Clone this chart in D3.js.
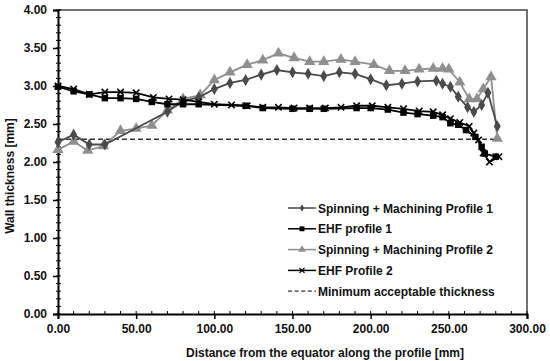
<!DOCTYPE html>
<html>
<head>
<meta charset="utf-8">
<script src="https://cdn.jsdelivr.net/npm/d3@7"></script>
<style>
  body { margin: 0; background: #fff; }
  text { font-family: Arial, "Liberation Sans", sans-serif; font-weight: bold; }
</style>
</head>
<body>
<svg id="chart" width="550" height="361"></svg>
<script>
// values
const sm1X = [0, 10, 20, 30, 70, 80, 90, 100, 110, 120, 130, 140, 150, 160, 170, 180, 190, 200, 210, 220, 230, 242, 246, 251, 256, 262, 266, 271, 275, 281];
const sm1Y = [2.26, 2.36, 2.23, 2.23, 2.66, 2.80, 2.85, 2.96, 3.04, 3.08, 3.15, 3.21, 3.18, 3.16, 3.13, 3.18, 3.16, 3.09, 3.01, 3.03, 3.06, 3.07, 3.03, 2.99, 2.86, 2.72, 2.66, 2.75, 2.91, 2.47];

const ehf1X = [0, 10, 20, 30, 40, 50, 60, 70, 80, 90, 120, 131, 150, 161, 170, 191, 200, 211, 221, 230, 240, 246, 251, 256, 261, 267, 271, 273, 280];
const ehf1Y = [2.99, 2.93, 2.89, 2.84, 2.84, 2.83, 2.79, 2.76, 2.76, 2.76, 2.74, 2.71, 2.70, 2.70, 2.70, 2.71, 2.71, 2.69, 2.65, 2.63, 2.61, 2.59, 2.51, 2.49, 2.42, 2.33, 2.20, 2.11, 2.07];

const sm2X = [0, 10, 19, 29, 40, 50, 60, 70, 80, 91, 100, 110, 121, 131, 141, 151, 161, 170, 181, 190, 202, 212, 222, 231, 240, 246, 250, 257, 263, 268, 272, 277, 281];
const sm2Y = [2.16, 2.27, 2.15, 2.21, 2.41, 2.44, 2.48, 2.68, 2.83, 2.88, 3.08, 3.18, 3.28, 3.34, 3.43, 3.37, 3.32, 3.32, 3.35, 3.32, 3.28, 3.20, 3.20, 3.22, 3.23, 3.23, 3.22, 3.05, 2.83, 2.83, 2.96, 3.12, 2.31];

const ehf2X = [0, 10, 20, 30, 40, 50, 61, 71, 80, 90, 100, 111, 121, 131, 141, 151, 161, 171, 181, 191, 201, 211, 221, 231, 240, 246, 251, 257, 263, 266, 269, 272, 276, 282];
const ehf2Y = [3.00, 2.96, 2.89, 2.92, 2.92, 2.91, 2.85, 2.83, 2.82, 2.79, 2.76, 2.75, 2.74, 2.72, 2.72, 2.71, 2.71, 2.71, 2.72, 2.74, 2.74, 2.72, 2.70, 2.67, 2.66, 2.62, 2.57, 2.52, 2.47, 2.38, 2.29, 2.12, 2.00, 2.07];

const minX = [0, 281];
const minY = [2.30, 2.30];

const seriesNames = ['Spinning + Machining Profile 1', 'EHF profile 1', 'Spinning + Machining Profile 2', 'EHF Profile 2', 'Minimum acceptable thickness'];
const xTicks = [0, 50, 100, 150, 200, 250, 300];
const yTicks = [0, 0.5, 1, 1.5, 2, 2.5, 3, 3.5, 4];

const svg = d3.select('#chart');

const x = d3.scaleLinear()
            .domain([0, 300])
            .range([58, 527]);

const y = d3.scaleLinear()
            .domain([0, 4])
            .range([314, 10]);

// frame (top + right)
svg.append('path')
  .attr('d', `M${x(0)},${y(4)}H${x(300)}V${y(0)}`)
  .attr('fill', 'none')
  .attr('stroke', '#444')
  .attr('stroke-width', 1.5);

// minor ticks
const gMinor = svg.append('g');
gMinor.selectAll('.ym')
  .data(d3.range(0, 4.01, 0.1))
  .join('line')
  .attr('x1', x(0) - 2)
  .attr('x2', x(0) + 3)
  .attr('y1', d => y(d))
  .attr('y2', d => y(d))
  .attr('stroke', '#000')
  .attr('stroke-width', 1);

gMinor.selectAll('.xm')
  .data(d3.range(0, 301, 10))
  .join('line')
  .attr('x1', d => x(d))
  .attr('x2', d => x(d))
  .attr('y1', y(0) - 3)
  .attr('y2', y(0) + 1)
  .attr('stroke', '#000')
  .attr('stroke-width', 1);

// y axis
const yAxis = svg.append('g')
  .attr('transform', `translate(${x(0)},0)`)
  .call(d3.axisLeft(y).tickValues(yTicks).tickFormat(d3.format('.2f')).tickSize(5).tickPadding(6));

// x axis
const xAxis = svg.append('g')
  .attr('transform', `translate(0,${y(0)})`)
  .call(d3.axisBottom(x).tickValues(xTicks).tickFormat(d3.format('.2f')).tickSize(5).tickPadding(5));

[xAxis, yAxis].forEach(a => {
  a.select('.domain').attr('stroke', '#000').attr('stroke-width', 2);
  a.selectAll('.tick line').attr('stroke', '#000').attr('stroke-width', 1.5);
  a.selectAll('.tick text')
    .attr('font-size', 12)
    .attr('font-family', 'Arial, "Liberation Sans", sans-serif')
    .attr('font-weight', 'bold')
    .attr('fill', '#111');
});

// axis titles
svg.append('text')
  .attr('x', 325)
  .attr('y', 357)
  .attr('text-anchor', 'middle')
  .attr('font-size', 12)
  .attr('fill', '#111')
  .text('Distance from the equator along the profile [mm]');

svg.append('text')
  .attr('transform', 'translate(14,176) rotate(-90)')
  .attr('text-anchor', 'middle')
  .attr('font-size', 12)
  .attr('fill', '#111')
  .text('Wall thickness [mm]');

// minimum line
const line = d3.line().x(d => x(d[0])).y(d => y(d[1]));

svg.append('path')
  .datum(d3.zip(minX, minY))
  .attr('d', line)
  .attr('fill', 'none')
  .attr('stroke', '#333')
  .attr('stroke-width', 1.5)
  .attr('stroke-dasharray', '5,3');

const series = [
  { xs: sm2X, ys: sm2Y, color: '#8f8f8f', sym: d3.symbolTriangle, size: 55 },
  { xs: sm1X, ys: sm1Y, color: '#4a4a4a', sym: d3.symbolDiamond, size: 42 },
  { xs: ehf2X, ys: ehf2Y, color: '#000', sym: 'x', size: 3.2 },
  { xs: ehf1X, ys: ehf1Y, color: '#000', sym: d3.symbolSquare, size: 42 }
];

series.forEach(s => {
  const pts = d3.zip(s.xs, s.ys);
  svg.append('path')
    .datum(pts)
    .attr('d', line)
    .attr('fill', 'none')
    .attr('stroke', s.color)
    .attr('stroke-width', 1.8);

  if (s.sym === 'x') {
    svg.append('g').selectAll('path')
      .data(pts)
      .join('path')
      .attr('d', d => `M${x(d[0]) - s.size},${y(d[1]) - s.size}l${2 * s.size},${2 * s.size}M${x(d[0]) - s.size},${y(d[1]) + s.size}l${2 * s.size},${-2 * s.size}`)
      .attr('stroke', s.color)
      .attr('stroke-width', 1.6);
  } else {
    svg.append('g').selectAll('path')
      .data(pts)
      .join('path')
      .attr('transform', d => `translate(${x(d[0])},${y(d[1])})`)
      .attr('d', d3.symbol().type(s.sym).size(s.size))
      .attr('fill', s.color);
  }
});

// legend
const legItems = [
  { color: '#4a4a4a', sym: d3.symbolDiamond, size: 16 },
  { color: '#000', sym: d3.symbolSquare, size: 24 },
  { color: '#8f8f8f', sym: d3.symbolTriangle, size: 26 },
  { color: '#000', sym: 'x', size: 2.5 },
  { color: '#333', sym: 'dash' }
];

const leg = svg.append('g');
legItems.forEach((it, i) => {
  const cy = 208 + i * 20.8;
  const g = leg.append('g').attr('transform', `translate(0,${cy})`);
  g.append('line')
    .attr('x1', 288)
    .attr('x2', 316)
    .attr('stroke', it.color)
    .attr('stroke-width', it.sym === 'dash' ? 1.2 : 1.5)
    .attr('stroke-dasharray', it.sym === 'dash' ? '4,2.6' : null);
  if (it.sym === 'x') {
    g.append('path')
      .attr('d', `M${302 - it.size},${-it.size}l${2 * it.size},${2 * it.size}M${302 - it.size},${it.size}l${2 * it.size},${-2 * it.size}`)
      .attr('stroke', it.color)
      .attr('stroke-width', 1.3);
  } else if (it.sym !== 'dash') {
    g.append('path')
      .attr('transform', 'translate(302,0)')
      .attr('d', d3.symbol().type(it.sym).size(it.size))
      .attr('fill', it.color);
  }
  g.append('text')
    .attr('x', 318)
    .attr('y', 4.5)
    .attr('font-size', 12)
    .attr('fill', '#111')
    .text(seriesNames[i]);
});
</script>
</body>
</html>
